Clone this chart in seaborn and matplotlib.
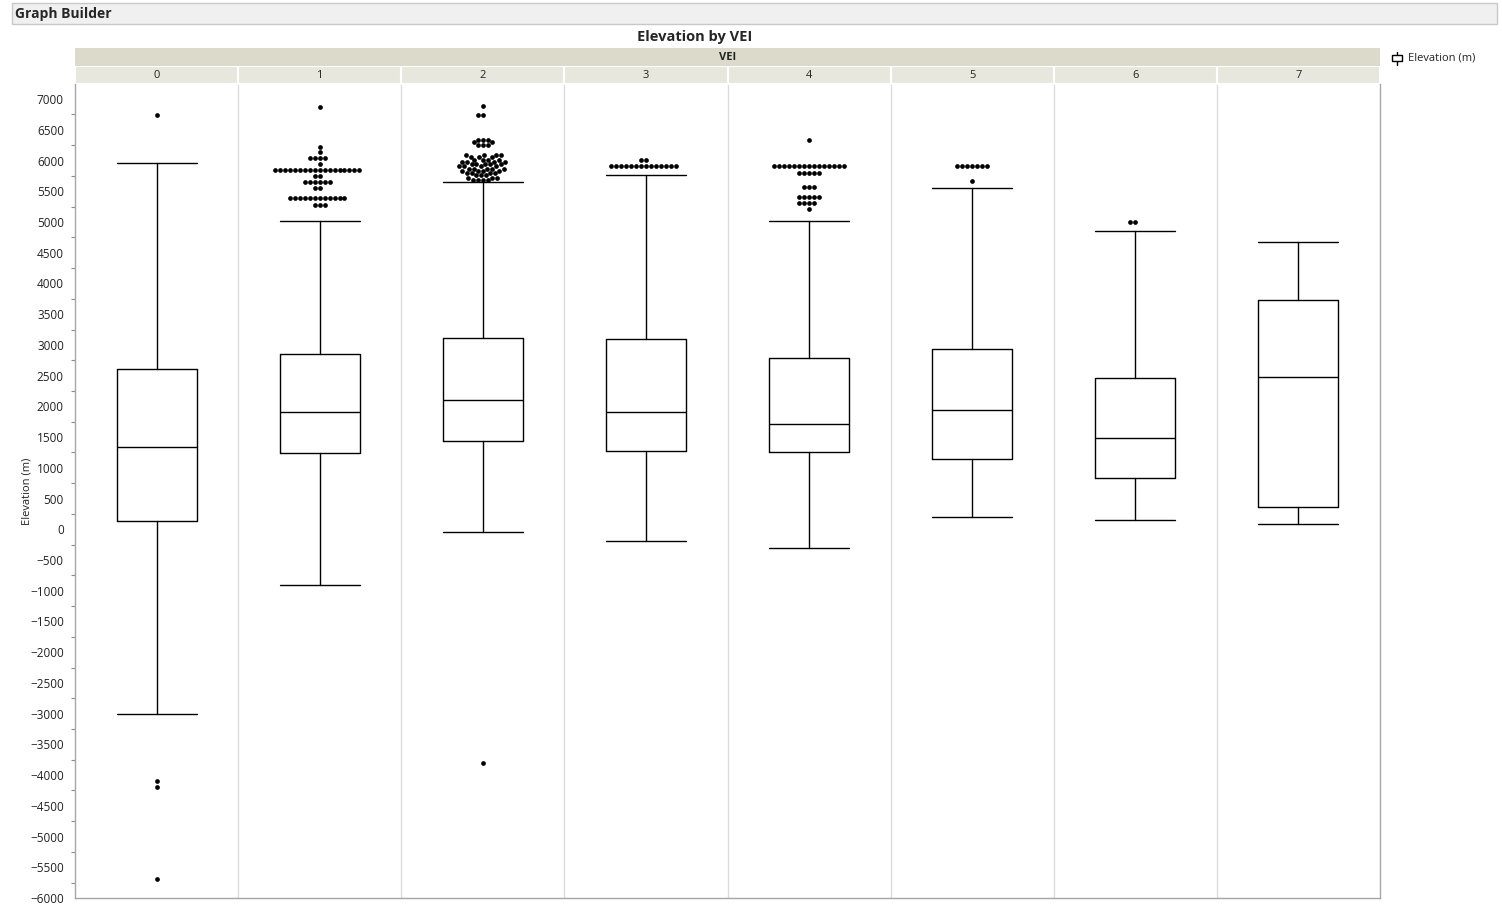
import matplotlib
matplotlib.use("Agg")
import matplotlib.pyplot as plt
import matplotlib.transforms as mtransforms
from matplotlib.patches import Rectangle
from matplotlib.ticker import MultipleLocator
import seaborn as sns
import numpy as np
import pandas as pd

# box plot summary per VEI class
vei = [0, 1, 2, 3, 4, 5, 6, 7]
whis_lo = [-3000, -908, -45, -192, -306, 199, 150, 85]
q1 = [134, 1240, 1435, 1273, 1256, 1143, 833, 362]
median = [1338, 1907, 2103, 1907, 1712, 1940, 1484, 2477]
q3 = [2607, 2851, 3111, 3095, 2786, 2932, 2460, 3730]
whis_hi = [5959, 5015, 5650, 5763, 5015, 5552, 4852, 4673]

# outliers as (elevation, count) rows
out_0 = [(6740, 1), (-4097, 1), (-4195, 1), (-5691, 1)]
out_1 = [(6875, 1), (6224, 1), (6133, 1), (6035, 4), (5944, 1), (5845, 18),
         (5747, 2), (5650, 6), (5552, 2), (5394, 12), (5275, 3)]
out_2 = [(6880, 1), (6745, 2), (6340, 3), (6300, 2), (6255, 3), (6090, 4),
         (6060, 3), (6010, 4), (5975, 4), (5940, 5), (5905, 4), (5870, 5),
         (5835, 4), (5800, 4), (5760, 3), (5720, 3), (5690, 4), (-3804, 1)]
out_3 = [(6010, 2), (5915, 14)]
out_4 = [(6333, 1), (5915, 15), (5802, 5), (5575, 3), (5412, 5), (5315, 4), (5210, 1)]
out_5 = [(5915, 7), (5666, 1)]
out_6 = [(5005, 2)]
out_7 = []
outliers = [out_0, out_1, out_2, out_3, out_4, out_5, out_6, out_7]

rows = []
for v, outs in zip(vei, outliers):
    for val, n in outs:
        rows += [(v, val)] * n
df = pd.DataFrame(rows, columns=["VEI", "Elevation"])

sns.set_style("white")
plt.rcParams["font.family"] = ["Open Sans", "DejaVu Sans"]

W, H = 1502, 909
fig = plt.figure(figsize=(W / 100, H / 100), dpi=100)
L, R, T, B = 75, 1380, 84, 898
ax = fig.add_axes([L / W, 1 - B / H, (R - L) / W, (B - T) / H])

stats = []
for i in range(len(vei)):
    stats.append(dict(whislo=whis_lo[i], q1=q1[i], med=median[i], q3=q3[i],
                      whishi=whis_hi[i], fliers=[]))
line = dict(color="black", linewidth=1)
ax.bxp(stats, positions=vei, widths=0.49, capwidths=0.49, showfliers=False,
       boxprops=line, medianprops=line, whiskerprops=line, capprops=line,
       manage_ticks=False)

sns.swarmplot(data=df, x="VEI", y="Elevation", order=vei, color="black",
              size=3.4, linewidth=0, ax=ax, zorder=3)

ax.set_xlim(-0.5, 7.5)
ax.set_ylim(-6000, 7245)
ax.set_xticks([])
ax.set_xlabel("")
ax.yaxis.set_minor_locator(MultipleLocator(250))
ax.set_yticks(np.arange(-6000, 7001, 500))
ax.tick_params(axis="y", which="major", direction="out", length=5, width=0.8,
               color="#8c8c8c", labelsize=8.5, labelcolor="#222222", pad=3)
ax.tick_params(axis="y", which="minor", direction="out", length=3, width=0.8,
               color="#8c8c8c", left=True)
ax.set_ylabel("Elevation (m)", fontsize=8, color="#222222", labelpad=-2)
for s in ["left", "bottom", "right"]:
    ax.spines[s].set_color("#a6a6a6")
    ax.spines[s].set_linewidth(1)
ax.spines["top"].set_visible(False)
for b in np.arange(0.5, 7.5, 1):
    ax.axvline(b, color="#dcdcdc", linewidth=1, zorder=0)

# facet-style header strips
trans = mtransforms.blended_transform_factory(ax.transData, ax.transAxes)
ph = B - T
h1 = 18 / ph
for v in vei:
    ax.add_patch(Rectangle((v - 0.5, 1), 1, h1, transform=trans, clip_on=False,
                           facecolor="#e8e7dd", edgecolor="white", linewidth=1.5))
    ax.text(v, 1 + h1 / 2, str(v), transform=trans, ha="center", va="center",
            fontsize=8, color="#222222")
ax.add_patch(Rectangle((-0.5, 1 + h1), 8, h1, transform=trans, clip_on=False,
                       facecolor="#dcdacb", edgecolor="none"))
ax.text(3.5, 1 + 1.5 * h1, "VEI", transform=trans, ha="center", va="center",
        fontsize=8, fontweight="bold", color="#222222")

# title and Graph Builder bar
fig.text(695 / W, 1 - 37 / H, "Elevation by VEI", ha="center", va="center",
         fontsize=10.5, fontweight="bold")
fig.patches.append(Rectangle((12 / W, 1 - 24 / H), 1485 / W, 21 / H,
                             transform=fig.transFigure, facecolor="#f0f0f0",
                             edgecolor="#c8c8c8", linewidth=1))
fig.text(15 / W, 1 - 14 / H, "Graph Builder", ha="left", va="center",
         fontsize=10, fontweight="bold")

# legend: small vertical box-plot icon
fig.lines.append(plt.Line2D([1396.5 / W, 1396.5 / W], [1 - 52 / H, 1 - 65 / H],
                            transform=fig.transFigure, color="black", linewidth=1))
fig.patches.append(Rectangle((1391.5 / W, 1 - 61 / H), 10 / W, 6 / H,
                             transform=fig.transFigure, facecolor="white",
                             edgecolor="black", linewidth=1, zorder=3))
fig.text(1408 / W, 1 - 58 / H, "Elevation (m)", ha="left", va="center",
         fontsize=8, color="#222222")

fig.savefig("out.png", dpi=100)
